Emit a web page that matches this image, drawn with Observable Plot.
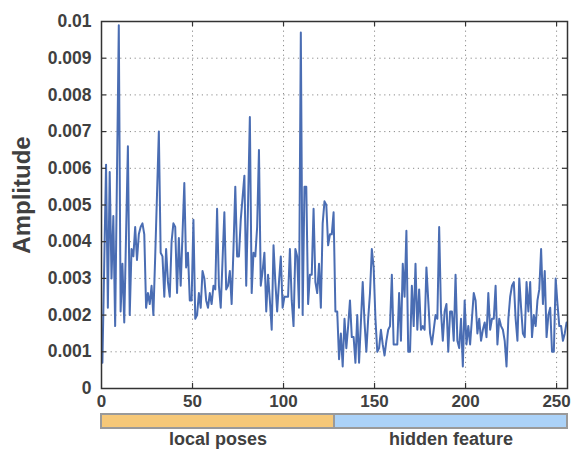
<!DOCTYPE html>
<html>
<head>
<meta charset="utf-8">
<script src="https://cdn.jsdelivr.net/npm/d3@7"></script>
<script src="https://cdn.jsdelivr.net/npm/@observablehq/plot@0.6"></script>
<style>
html, body { margin: 0; padding: 0; background: #ffffff; }
#chart { width: 574px; height: 449px; overflow: hidden; }
#chart svg { display: block; }
</style>
</head>
<body>
<div id="chart"></div>
<script>
// ---- data ----
const amplitude = [
  0.0007, 0.0034, 0.0061, 0.0022, 0.0059, 0.0030, 0.0047, 0.0017, 0.0058, 0.0099,
  0.0021, 0.0034, 0.0018, 0.0042, 0.0066, 0.0020, 0.0038, 0.0036, 0.0044, 0.0035,
  0.0042, 0.0044, 0.0045, 0.0042, 0.0022, 0.0026, 0.0023, 0.0028, 0.0020, 0.0036,
  0.0053, 0.0070, 0.0037, 0.0036, 0.0025, 0.0038, 0.0029, 0.0025, 0.0040, 0.0045,
  0.0044, 0.0026, 0.0041, 0.0028, 0.0042, 0.0056, 0.0033, 0.0037, 0.0024, 0.0024,
  0.0046, 0.0019, 0.0020, 0.0026, 0.0022, 0.0032, 0.0030, 0.0024, 0.0022, 0.0026,
  0.0023, 0.0028, 0.0027, 0.0049, 0.0028, 0.0022, 0.0035, 0.0048, 0.0027, 0.0028,
  0.0032, 0.0023, 0.0038, 0.0055, 0.0036, 0.0036, 0.0046, 0.0052, 0.0058, 0.0028,
  0.0050, 0.0074, 0.0026, 0.0037, 0.0036, 0.0044, 0.0065, 0.0028, 0.0032, 0.0037,
  0.0021, 0.0031, 0.0024, 0.0016, 0.0039, 0.0029, 0.0021, 0.0029, 0.0036, 0.0022,
  0.0025, 0.0025, 0.0025, 0.0038, 0.0024, 0.0017, 0.0038, 0.0036, 0.0022, 0.0097,
  0.0020, 0.0055, 0.0055, 0.0023, 0.0031, 0.0031, 0.0049, 0.0029, 0.0026, 0.0034,
  0.0022, 0.0045, 0.0051, 0.0050, 0.0039, 0.0042, 0.0042, 0.0048, 0.0021, 0.0021,
  0.0008, 0.0015, 0.0006, 0.0019, 0.0011, 0.0017, 0.0024, 0.0014, 0.0014, 0.0007,
  0.0020, 0.0007, 0.0018, 0.0029, 0.0018, 0.0010, 0.0019, 0.0026, 0.0038, 0.0033,
  0.0019, 0.0010, 0.0011, 0.0016, 0.0012, 0.0009, 0.0013, 0.0016, 0.0017, 0.0031,
  0.0012, 0.0012, 0.0012, 0.0026, 0.0013, 0.0034, 0.0025, 0.0043, 0.0010, 0.0010,
  0.0028, 0.0017, 0.0034, 0.0016, 0.0027, 0.0016, 0.0017, 0.0016, 0.0033, 0.0024,
  0.0015, 0.0012, 0.0016, 0.0020, 0.0019, 0.0044, 0.0021, 0.0013, 0.0021, 0.0023,
  0.0010, 0.0021, 0.0021, 0.0013, 0.0031, 0.0013, 0.0011, 0.0019, 0.0006, 0.0024,
  0.0012, 0.0017, 0.0012, 0.0019, 0.0026, 0.0024, 0.0015, 0.0019, 0.0013, 0.0016,
  0.0018, 0.0014, 0.0026, 0.0016, 0.0019, 0.0019, 0.0028, 0.0012, 0.0019, 0.0017,
  0.0016, 0.0013, 0.0006, 0.0019, 0.0025, 0.0028, 0.0029, 0.0019, 0.0013, 0.0030,
  0.0022, 0.0015, 0.0014, 0.0029, 0.0021, 0.0029, 0.0014, 0.0020, 0.0017, 0.0024,
  0.0027, 0.0038, 0.0023, 0.0032, 0.0014, 0.0020, 0.0022, 0.0010, 0.0010, 0.0030,
  0.0023, 0.0017, 0.0017, 0.0013, 0.0015, 0.0018
];
const xTicks = [0, 50, 100, 150, 200, 250];
const xTickLabels = ["0", "50", "100", "150", "200", "250"];
const yTicks = [0, 0.001, 0.002, 0.003, 0.004, 0.005, 0.006, 0.007, 0.008, 0.009, 0.01];
const yTickLabels = ["0", "0.001", "0.002", "0.003", "0.004", "0.005", "0.006", "0.007", "0.008", "0.009", "0.01"];
const yLabel = "Amplitude";
const segmentNames = ["local poses", "hidden feature"];
const segmentStart = [0, 128];
const segmentEnd = [128, 256];
const segmentColors = ["#f6c878", "#abd2f8"];

// ---- layout / style ----
const FONT = "'Liberation Sans', Arial, Helvetica, sans-serif";
const TEXT = "#404040";
const W = 574, ML = 101, MR = 7, MT = 21, MB = 22, H1 = 410, H2 = 39;
const frameW = W - ML - MR, frameH = H1 - MT - MB;
const TICK = 5;

const series = amplitude.map((v, i) => ({x: i + 0.5, y: v}));
const segments = segmentNames.map((name, i) => ({name, start: segmentStart[i], end: segmentEnd[i], color: segmentColors[i]}));

const gridStyle = {stroke: "#8a8a8a", strokeOpacity: 1, strokeWidth: 1, strokeDasharray: "1.2,3.6"};
const tickStyle = {stroke: "#333", strokeWidth: 1.2};

const main = Plot.plot({
  width: W, height: H1,
  marginLeft: ML, marginRight: MR, marginTop: MT, marginBottom: MB,
  style: {fontFamily: FONT, fontSize: "17px", color: TEXT, background: "#ffffff", overflow: "visible"},
  x: {domain: [0, 256]},
  y: {domain: [0, 0.01]},
  marks: [
    Plot.gridX(xTicks.slice(1), gridStyle),
    Plot.gridY(yTicks.slice(1, -1), gridStyle),
    Plot.line(series, {x: "x", y: "y", stroke: "#4a6db3", strokeWidth: 2, strokeLinejoin: "round"}),
    Plot.ruleX(xTicks.slice(1), {insetTop: frameH - TICK, ...tickStyle}),
    Plot.ruleX(xTicks.slice(1), {insetBottom: frameH - TICK, ...tickStyle}),
    Plot.ruleY(yTicks.slice(1, -1), {insetRight: frameW - TICK, ...tickStyle}),
    Plot.ruleY(yTicks.slice(1, -1), {insetLeft: frameW - TICK, ...tickStyle}),
    Plot.frame({stroke: "#333", strokeWidth: 1.5}),
    Plot.axisX(xTicks, {tickSize: 0, tickPadding: 6, tickFormat: (d, i) => xTickLabels[i], label: null,
      fontSize: 17, fontWeight: "bold", fill: TEXT}),
    Plot.axisY(yTicks, {tickSize: 0, tickPadding: 10, tickFormat: (d, i) => yTickLabels[i], label: null,
      fontSize: 17.5, fontWeight: "bold", fill: TEXT}),
    Plot.text([yLabel], {frameAnchor: "left", textAnchor: "middle", lineAnchor: "middle", rotate: -90, dx: -79, dy: -10,
      fontSize: 24, fontWeight: "bold", fill: TEXT})
  ]
});

const band = Plot.plot({
  width: W, height: H2,
  marginLeft: ML, marginRight: MR, marginTop: 4, marginBottom: 21,
  style: {fontFamily: FONT, color: TEXT, background: "#ffffff", overflow: "visible"},
  x: {domain: [0, 256], axis: null},
  color: {type: "identity"},
  marks: [
    Plot.barX(segments, {x1: "start", x2: "end", fill: "color", stroke: "#9a9a9a", strokeWidth: 2}),
    Plot.text(segments, {x: d => (d.start + d.end) / 2, text: "name", frameAnchor: "bottom", dy: 16,
      fontSize: 18, fontWeight: "bold", fill: TEXT})
  ]
});

const chart = document.getElementById("chart");
chart.appendChild(main);
chart.appendChild(band);
</script>
</body>
</html>
